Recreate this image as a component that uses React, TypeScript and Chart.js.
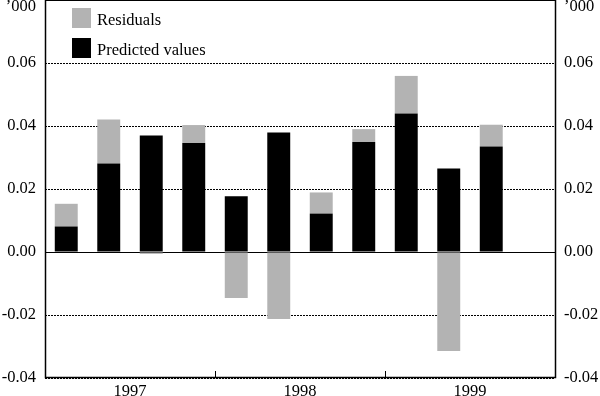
import React, { useEffect, useRef } from 'react';
import { Chart, registerables } from 'chart.js';

Chart.register(...registerables);

const quarters = [
  '1997 Q1', '1997 Q2', '1997 Q3', '1997 Q4',
  '1998 Q1', '1998 Q2', '1998 Q3', '1998 Q4',
  '1999 Q1', '1999 Q2', '1999 Q3', '1999 Q4',
];
const years = ['1997', '1998', '1999'];
const predicted = [0.0081, 0.0281, 0.037, 0.0346, 0.0177, 0.0379, 0.0122, 0.0349, 0.044, 0.0265, 0.0335, null];
const residuals = [0.0072, 0.014, -0.0006, 0.0057, -0.0146, -0.0213, 0.0067, 0.0041, 0.0119, -0.0314, 0.0069, null];
const yTicks = [-0.04, -0.02, 0, 0.02, 0.04, 0.06];
const yTop = 0.08;
const unitLabel = '\u2019000';
const legendItems = [
  { label: 'Residuals', color: '#b3b3b3' },
  { label: 'Predicted values', color: '#000000' },
];

const FONT = "'Liberation Serif', 'Times New Roman', serif";
const FONT_SIZE = 16.5;

const buildTicks = (scale: any) => {
  scale.ticks = [...yTicks, yTop].map((v) => ({ value: v }));
};
const tickLabel = (v: any) => (Math.abs(v - yTop) < 1e-9 ? null : Number(v).toFixed(2));
const noPad = (s: any) => {
  s.paddingTop = 0;
  s.paddingBottom = 0;
  s.paddingLeft = 0;
  s.paddingRight = 0;
};

const decorPlugin = {
  id: 'decor',
  beforeDatasetsDraw(chart: any) {
    const { ctx, chartArea: a, scales } = chart;
    const y = scales.y;
    ctx.save();
    ctx.strokeStyle = '#000';
    ctx.lineWidth = 1;
    ctx.setLineDash([2, 1]);
    for (const v of yTicks) {
      if (v === 0) continue;
      const py = Math.round(y.getPixelForValue(v)) + 0.5;
      ctx.beginPath();
      ctx.moveTo(a.left, py);
      ctx.lineTo(a.right, py);
      ctx.stroke();
    }
    ctx.setLineDash([]);
    const pz = Math.round(y.getPixelForValue(0)) + 0.5;
    ctx.beginPath();
    ctx.moveTo(a.left, pz);
    ctx.lineTo(a.right, pz);
    ctx.stroke();
    ctx.restore();
  },
  afterDraw(chart: any) {
    const { ctx, chartArea: a, scales } = chart;
    ctx.save();
    ctx.strokeStyle = '#000';
    ctx.lineWidth = 1.5;
    ctx.beginPath();
    ctx.moveTo(Math.round(a.left) + 0.5, a.top);
    ctx.lineTo(Math.round(a.left) + 0.5, a.bottom - 0.5);
    ctx.lineTo(Math.round(a.right) + 0.5, a.bottom - 0.5);
    ctx.lineTo(Math.round(a.right) + 0.5, a.top);
    ctx.stroke();
    ctx.lineWidth = 1;
    ctx.beginPath();
    ctx.moveTo(a.left, a.top + 0.5);
    ctx.lineTo(a.right, a.top + 0.5);
    ctx.stroke();
    const xy = scales.xYears;
    for (let i = 0; i < years.length - 1; i++) {
      const px = Math.round((xy.getPixelForTick(i) + xy.getPixelForTick(i + 1)) / 2) + 0.5;
      ctx.beginPath();
      ctx.moveTo(px, a.bottom);
      ctx.lineTo(px, a.bottom - 7);
      ctx.stroke();
    }
    ctx.fillStyle = '#000';
    ctx.font = `${FONT_SIZE}px ${FONT}`;
    ctx.textBaseline = 'alphabetic';
    ctx.textAlign = 'right';
    ctx.fillText(unitLabel, a.left - 9, 11);
    ctx.textAlign = 'left';
    ctx.fillText(unitLabel, a.right + 9, 11);
    legendItems.forEach((item, i) => {
      const top = 8 + i * 30;
      ctx.fillStyle = item.color;
      ctx.fillRect(a.left + 27, top, 19, 20);
      ctx.fillStyle = '#000';
      ctx.textAlign = 'left';
      ctx.fillText(item.label, a.left + 52, top + 17);
    });
    ctx.restore();
  },
};

export default function App() {
  const ref = useRef<HTMLCanvasElement>(null);

  useEffect(() => {
    document.body.style.margin = '0';
    const canvas = ref.current;
    if (!canvas) return;
    Chart.defaults.color = '#000';
    const yCommon = {
      min: -0.04,
      max: yTop,
      afterBuildTicks: buildTicks,
      grid: {
        display: true,
        drawOnChartArea: false,
        drawTicks: true,
        tickLength: 9,
        color: 'rgba(0,0,0,0)',
      },
      border: { display: false },
      ticks: {
        padding: 0,
        font: { family: FONT, size: FONT_SIZE },
        color: '#000',
        callback: tickLabel,
      },
      afterFit: (s: any) => {
        s.width = 45;
        noPad(s);
      },
    };
    const chart = new Chart(canvas, {
      type: 'bar',
      data: {
        labels: quarters,
        datasets: [
          {
            label: 'Predicted values',
            data: predicted,
            backgroundColor: '#000000',
            borderWidth: 0,
            barPercentage: 0.54,
            categoryPercentage: 1,
          },
          {
            label: 'Residuals',
            data: residuals,
            backgroundColor: '#b3b3b3',
            borderWidth: 0,
            barPercentage: 0.54,
            categoryPercentage: 1,
          },
        ],
      },
      options: {
        responsive: false,
        animation: false,
        devicePixelRatio: 1,
        layout: { padding: 0 },
        plugins: {
          legend: { display: false },
          tooltip: { enabled: false },
        },
        scales: {
          x: {
            display: false,
            stacked: true,
            offset: true,
          },
          xYears: {
            type: 'category',
            labels: years,
            position: 'bottom',
            offset: true,
            grid: { display: false },
            border: { display: false },
            ticks: {
              padding: -4,
              maxRotation: 0,
              font: { family: FONT, size: FONT_SIZE },
              color: '#000',
            },
            afterFit: (s: any) => {
              s.height = 18;
              noPad(s);
            },
          },
          y: { ...yCommon, position: 'left', stacked: true },
          y2: { ...yCommon, type: 'linear', position: 'right' },
        },
      } as any,
      plugins: [decorPlugin],
    });
    return () => chart.destroy();
  }, []);

  return (
    <div style={{ width: 600, height: 396, background: '#fff' }}>
      <canvas ref={ref} width={600} height={396} style={{ display: 'block' }} />
    </div>
  );
}
